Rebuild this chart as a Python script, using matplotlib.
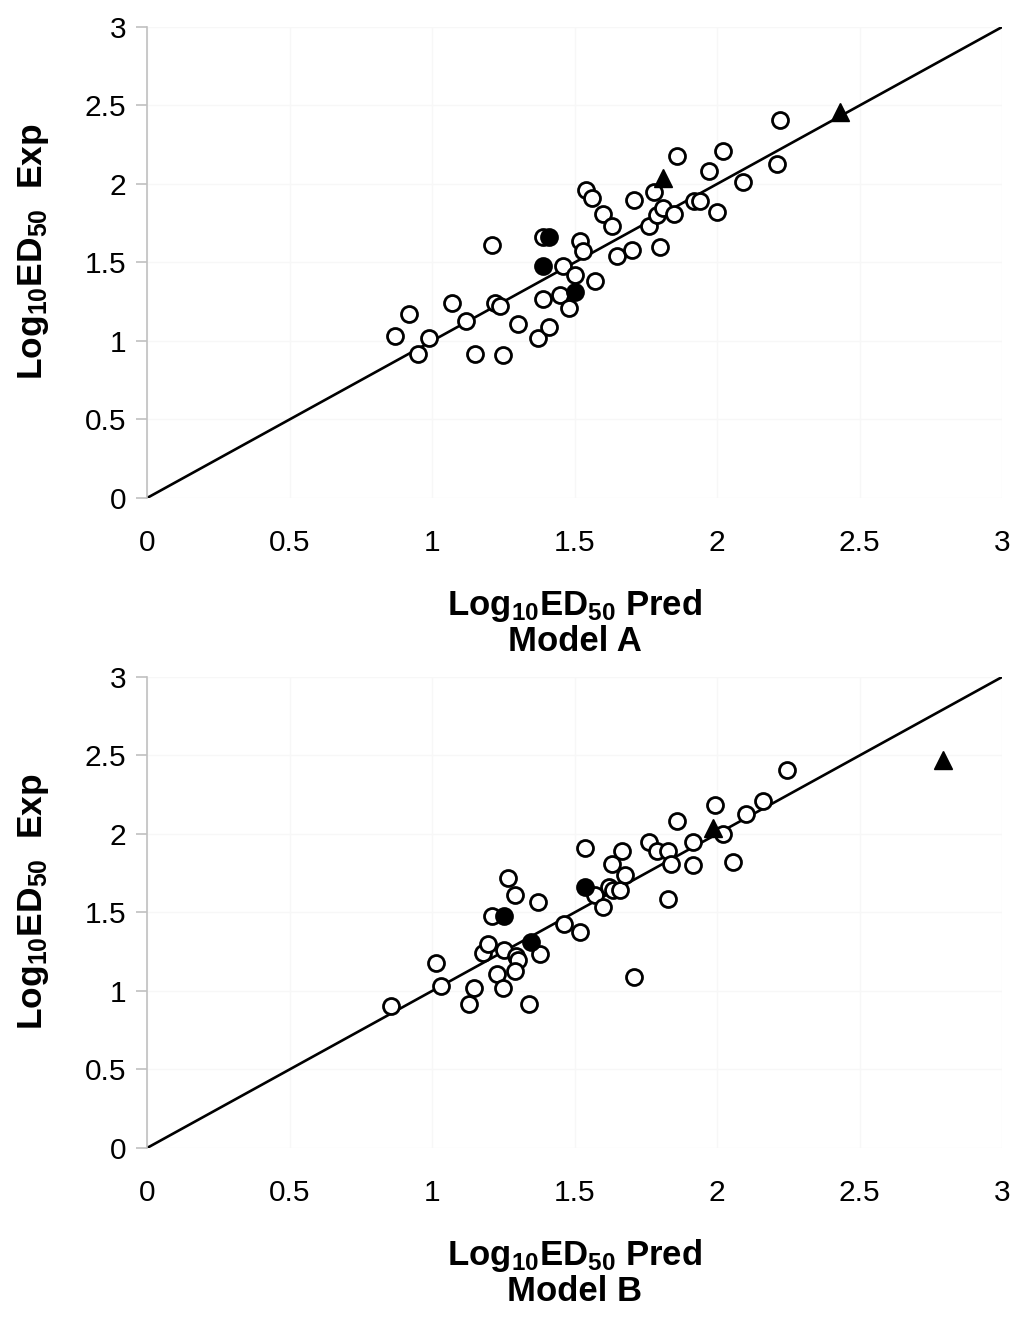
import numpy as np
import matplotlib.pyplot as plt

plt.rcParams['font.family'] = ['Liberation Sans', 'DejaVu Sans']
plt.rcParams['mathtext.fontset'] = 'custom'
plt.rcParams['mathtext.rm'] = 'Liberation Sans:bold'
plt.rcParams['mathtext.bf'] = 'Liberation Sans:bold'
plt.rcParams['mathtext.it'] = 'Liberation Sans:bold'

# Model A: open circles (pred, exp)
a_open_x = [0.87, 0.92, 0.95, 0.99, 1.07, 1.12, 1.15, 1.21, 1.22, 1.24, 1.25, 1.30, 1.37,
            1.39, 1.39, 1.41, 1.45, 1.46, 1.48, 1.50, 1.52, 1.53, 1.54, 1.56, 1.57, 1.60,
            1.63, 1.65, 1.70, 1.71, 1.76, 1.78, 1.79, 1.80, 1.81, 1.85, 1.86, 1.92, 1.94,
            1.97, 2.00, 2.02, 2.09, 2.21, 2.22]
a_open_y = [1.03, 1.17, 0.92, 1.02, 1.24, 1.13, 0.92, 1.61, 1.24, 1.22, 0.91, 1.11, 1.02,
            1.66, 1.27, 1.09, 1.29, 1.48, 1.21, 1.42, 1.64, 1.57, 1.96, 1.91, 1.38, 1.81,
            1.73, 1.54, 1.58, 1.90, 1.73, 1.95, 1.80, 1.60, 1.85, 1.81, 2.18, 1.89, 1.89,
            2.08, 1.82, 2.21, 2.01, 2.13, 2.41]
a_fill_x = [1.41, 1.39, 1.50]
a_fill_y = [1.66, 1.48, 1.31]
a_tri_x = [1.81, 2.43]
a_tri_y = [2.04, 2.46]

# Model B
b_open_x = [0.855, 1.014, 1.03, 1.13, 1.148, 1.18, 1.195, 1.21, 1.227, 1.25, 1.253, 1.266,
            1.29, 1.295, 1.30, 1.29, 1.34, 1.38, 1.37, 1.463, 1.52, 1.537, 1.57, 1.60, 1.62,
            1.63, 1.634, 1.66, 1.668, 1.677, 1.71, 1.76, 1.79, 1.827, 1.84, 1.827, 1.86,
            1.915, 1.915, 1.993, 2.02, 2.055, 2.10, 2.16, 2.245]
b_open_y = [0.905, 1.18, 1.034, 0.92, 1.02, 1.24, 1.30, 1.48, 1.11, 1.02, 1.26, 1.72,
            1.61, 1.225, 1.20, 1.13, 0.92, 1.235, 1.565, 1.425, 1.376, 1.91, 1.61, 1.537, 1.66,
            1.81, 1.643, 1.643, 1.894, 1.74, 1.09, 1.95, 1.894, 1.894, 1.81, 1.584, 2.08,
            1.95, 1.80, 2.185, 2.00, 1.82, 2.125, 2.21, 2.41]
b_fill_x = [1.253, 1.347, 1.537]
b_fill_y = [1.48, 1.31, 1.664]
b_tri_x = [1.985, 2.793]
b_tri_y = [2.036, 2.47]

ticks = [0, 0.5, 1, 1.5, 2, 2.5, 3]
ticklabels = ['0', '0.5', '1', '1.5', '2', '2.5', '3']

fig = plt.figure(figsize=(10.24, 13.23), dpi=100)
ax1 = fig.add_axes([0.1436, 0.6236, 0.835, 0.356])
ax2 = fig.add_axes([0.1436, 0.1323, 0.835, 0.356])

panels = [
    (ax1, a_open_x, a_open_y, a_fill_x, a_fill_y, a_tri_x, a_tri_y, 'Model A'),
    (ax2, b_open_x, b_open_y, b_fill_x, b_fill_y, b_tri_x, b_tri_y, 'Model B'),
]

for ax, ox, oy, fx, fy, tx, ty, name in panels:
    ax.plot([0, 3], [0, 3], color='black', lw=1.9, zorder=2)
    ax.plot(ox, oy, 'o', ms=11.5, mfc='white', mec='black', mew=2.0, zorder=3)
    ax.plot(fx, fy, 'o', ms=11.5, mfc='black', mec='black', mew=2.0, zorder=4)
    ax.plot(tx, ty, '^', ms=13, mfc='black', mec='black', zorder=4)
    ax.set_xlim(0, 3)
    ax.set_ylim(0, 3)
    ax.set_xticks(ticks)
    ax.set_xticklabels(ticklabels)
    ax.set_yticks(ticks)
    ax.set_yticklabels(ticklabels)
    ax.grid(True, color='#f7f7f7', lw=1)
    ax.set_axisbelow(True)
    for s in ['top', 'right', 'bottom']:
        ax.spines[s].set_visible(False)
    ax.spines['left'].set_color('#c0c0c0')
    ax.spines['left'].set_linewidth(1.2)
    ax.tick_params(axis='y', colors='#c0c0c0', labelcolor='black', labelsize=21.5,
                   length=8, width=1.2, direction='out', pad=7)
    ax.tick_params(axis='x', length=0, labelcolor='black', labelsize=21.5, pad=22)
    ax.set_ylabel(r'$\mathrm{Log_{10}ED_{50}}$  Exp', fontsize=25.5, fontweight='bold')
    ax.yaxis.set_label_coords(-0.112, 0.523)
    ax.set_xlabel(r'$\mathrm{Log_{10}ED_{50}}$ Pred' + '\n' + name, fontsize=25,
                  fontweight='bold', labelpad=22, linespacing=1.05)

fig.savefig('out.png', dpi=100)
